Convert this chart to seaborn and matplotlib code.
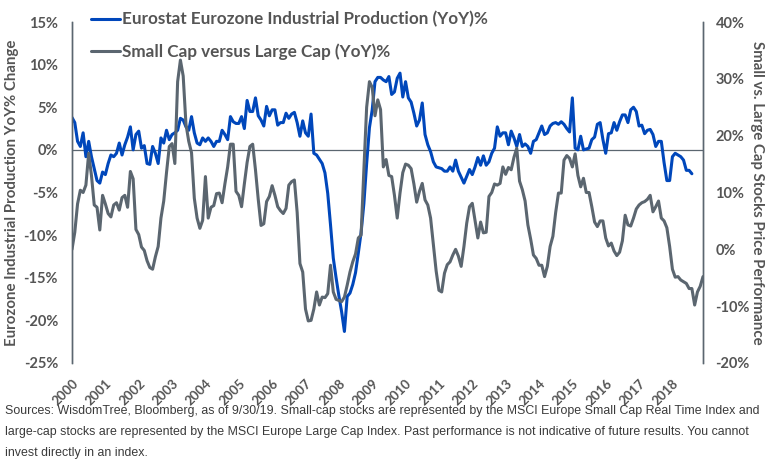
import numpy as np
import pandas as pd
import matplotlib
matplotlib.use('Agg')
import matplotlib.pyplot as plt
import seaborn as sns

# Monthly series starting Jan 2000
eurozone_ip = [
    3.8, 3.2, 1.0, 0.4, 2.0, -0.8, 1.0, -0.8, -2.2, -3.6, -3.9, -2.6,
    -2.9, -1.6, -0.6, -0.8, -0.4, 0.8, -0.6, 0.6, 1.5, 2.7, 0.0, 1.8,
    2.2, 0.2, 0.5, -1.6, -1.7, 0.4, -0.4, -1.6, 1.4, 0.8, 2.3, 1.2,
    1.8, 2.0, 2.3, 3.7, 3.5, 2.7, 2.3, 3.9, 2.0, 0.8, 0.6, 1.4,
    1.0, 1.4, 1.0, 0.4, 1.0, 1.0, 2.3, 1.8, 1.2, 3.9, 3.3, 3.1,
    3.1, 3.9, 2.5, 5.8, 4.5, 4.5, 6.1, 4.0, 3.5, 2.8, 5.1, 4.0,
    4.7, 4.7, 2.9, 3.2, 3.2, 4.3, 3.7, 4.2, 4.4, 3.2, 1.6, 3.4,
    2.0, 1.6, 4.2, -0.4, -0.6, -1.1, -1.6, -2.7, -5.1, -8.8, -12.7, -15.0,
    -17.1, -19.0, -21.3, -17.2, -16.8, -15.8, -14.4, -12.1, -9.7, -6.3, -1.6, 2.6,
    4.7, 8.0, 8.5, 8.5, 8.2, 8.0, 8.6, 6.5, 6.8, 8.4, 9.0, 6.2,
    8.0, 6.1, 5.6, 4.3, 2.8, 3.5, 5.5, 1.8, 0.6, -0.2, -1.4, -2.0,
    -2.1, -2.2, -2.5, -2.5, -2.0, -2.5, -1.2, -2.5, -3.2, -3.9, -3.1, -2.3,
    -2.9, -2.0, -0.9, -1.8, -0.7, -1.8, -1.4, -0.4, 0.2, 2.7, 1.6, 2.0,
    2.0, 0.6, 2.2, 1.4, 0.4, 1.8, 0.4, 0.7, 0.4, -0.4, 1.0, 1.2,
    2.0, 2.8, 1.8, 2.0, 2.8, 3.1, 3.2, 3.0, 3.3, 3.0, 2.5, 2.1,
    6.1, 0.2, 0.0, 1.6, 0.0, 0.1, 0.2, 1.2, 1.5, 3.0, 3.2, 1.2,
    -0.4, 1.9, 2.0, 3.2, 2.3, 3.3, 4.1, 4.1, 3.2, 4.7, 5.0, 4.5,
    2.8, 2.9, 1.9, 2.3, 2.4, 1.8, 0.4, 1.0, 1.0, -1.5, -3.6, -3.6,
    -0.8, -0.4, -0.6, -0.8, -1.2, -2.4, -2.4, -2.8,
]

small_vs_large = [
    0.0, 3.0, 8.0, 10.4, 10.0, 11.3, 16.9, 13.0, 7.8, 7.4, 3.4, 9.5,
    8.0, 6.3, 5.7, 7.8, 8.2, 6.9, 9.1, 9.5, 7.4, 13.7, 12.4, 3.5,
    2.6, 0.4, -0.2, -2.0, -3.2, -3.5, -1.3, 0.5, 5.5, 8.5, 13.5, 18.1,
    18.6, 15.1, 29.5, 33.3, 30.5, 22.0, 19.0, 17.0, 9.0, 5.5, 3.7, 5.1,
    12.8, 5.5, 7.4, 7.7, 9.8, 9.9, 8.2, 11.5, 14.5, 18.5, 18.5, 10.2,
    9.5, 7.5, 11.5, 15.3, 18.1, 18.5, 14.0, 8.8, 4.2, 4.5, 8.4, 9.3,
    11.2, 9.5, 7.5, 6.8, 6.3, 7.2, 11.3, 11.9, 12.2, 6.5, -2.5, -4.0,
    -10.5, -12.6, -12.5, -10.5, -7.5, -9.8, -8.4, -8.5, -7.8, -2.8, -7.5, -8.8,
    -9.0, -9.2, -8.4, -6.3, -4.0, -2.2, -0.8, 2.0, 2.5, 14.0, 25.0, 29.5,
    28.5, 23.5, 26.3, 24.6, 14.5, 15.8, 13.0, 12.8, 9.5, 5.5, 9.9, 13.5,
    15.0, 14.8, 14.2, 11.5, 8.3, 10.2, 11.6, 8.7, 7.8, 5.5, 0.8, -3.8,
    -7.2, -7.5, -4.2, -2.7, -2.2, -1.0, 0.0, -1.2, -3.0, 0.5, 4.6, 7.5,
    8.1, 5.1, 2.0, 4.8, 2.9, 3.0, 9.3, 10.0, 11.5, 11.3, 11.6, 14.5,
    13.2, 14.4, 14.0, 16.2, 17.8, 12.0, 10.5, 8.5, 4.3, 1.8, -1.0, -1.6,
    -2.8, -2.8, -4.8, -3.0, 0.5, 2.3, 6.5, 9.9, 9.9, 15.7, 16.5, 16.0,
    14.5, 16.8, 13.0, 11.0, 12.5, 10.0, 10.0, 7.5, 4.8, 4.0, 5.0, 5.0,
    2.0, 0.6, 1.1, -0.3, -1.1, -0.5, 1.5, 6.0, 4.3, 4.1, 5.5, 7.1,
    7.8, 8.2, 8.4, 8.8, 9.5, 6.6, 7.5, 8.5, 5.5, 5.0, 3.8, 0.5,
    -3.5, -4.9, -4.8, -5.4, -5.7, -6.0, -6.9, -6.9, -9.8, -7.5, -6.5, -4.8,
]

year_ticks = list(range(2000, 2019))
left_ticks = [-25, -20, -15, -10, -5, 0, 5, 10, 15]
right_ticks = [-20, -10, 0, 10, 20, 30, 40]

blue = '#0047BB'
grey = '#5B6670'
text_col = '#555555'

df_ip = pd.DataFrame({'year': 2000 + np.arange(len(eurozone_ip)) / 12, 'value': eurozone_ip})
df_sc = pd.DataFrame({'year': 2000 + np.arange(len(small_vs_large)) / 12, 'value': small_vs_large})

sns.set_style('white')
plt.rcParams['font.family'] = ['Lato', 'DejaVu Sans']

fig = plt.figure(figsize=(7.72, 4.75), dpi=100)
ax = fig.add_axes([72 / 772, 1 - 363 / 475, 631 / 772, 341 / 475])
ax2 = ax.twinx()

sns.lineplot(data=df_ip, x='year', y='value', ax=ax, color=blue, lw=2.2,
             label='Eurostat Eurozone Industrial Production (YoY)%', legend=False)
sns.lineplot(data=df_sc, x='year', y='value', ax=ax2, color=grey, lw=2.2,
             label='Small Cap versus Large Cap (YoY)%', legend=False)

ax.axhline(0, color=grey, lw=0.9, zorder=0)

ax.set_xlim(2000, 2000 + (len(small_vs_large) - 1) / 12)
ax.set_ylim(-25, 15)
ax2.set_ylim(-20, 40)
ax.set_yticks(left_ticks)
ax.set_yticklabels([f'{v}%' for v in left_ticks])
ax2.set_yticks(right_ticks)
ax2.set_yticklabels([f'{v}%' for v in right_ticks])
ax.set_xticks(year_ticks)
ax.set_xticklabels([str(y) for y in year_ticks], rotation=45, ha='right',
                   rotation_mode='anchor')

for a in (ax, ax2):
    for s in ('top', 'bottom'):
        a.spines[s].set_visible(False)
    for s in ('left', 'right'):
        a.spines[s].set_color(grey)
        a.spines[s].set_linewidth(1.0)
    a.tick_params(length=0, labelsize=10.5, labelcolor=text_col)
    for lbl in a.get_yticklabels() + a.get_xticklabels():
        lbl.set_fontweight('bold')
ax.tick_params(axis='y', pad=10)
ax2.tick_params(axis='y', pad=9)
ax.tick_params(axis='x', pad=10, labelsize=9.5)

ax.set_xlabel('')
ax.set_ylabel('Eurozone Industrial Production YoY% Change', fontsize=10.8,
              fontweight='bold', color=text_col, labelpad=3)
ax2.set_ylabel('Small vs. Large Cap Stocks Price Performance', fontsize=10.8,
               fontweight='bold', color=text_col, rotation=270, labelpad=10)

h1, l1 = ax.get_legend_handles_labels()
h2, l2 = ax2.get_legend_handles_labels()
fig.legend(h1 + h2, l1 + l2, loc='upper left', bbox_to_anchor=(76 / 772, 1 + 4 / 475),
           frameon=False, labelcolor=text_col, handlelength=1.65,
           handletextpad=0.15, labelspacing=0.95, prop={'weight': 'bold', 'size': 12.3})

fig.text(5 / 772, 1 - 405 / 475,
         'Sources: WisdomTree, Bloomberg, as of 9/30/19. Small-cap stocks are represented by the MSCI Europe Small Cap Real Time Index and\n'
         'large-cap stocks are represented by the MSCI Europe Large Cap Index. Past performance is not indicative of future results. You cannot\n'
         'invest directly in an index.',
         fontsize=8.95, color='#3a3a3a', va='top', linespacing=2.0,
         family=['Liberation Sans Narrow', 'Liberation Sans'])

fig.savefig('out.png', dpi=100)
